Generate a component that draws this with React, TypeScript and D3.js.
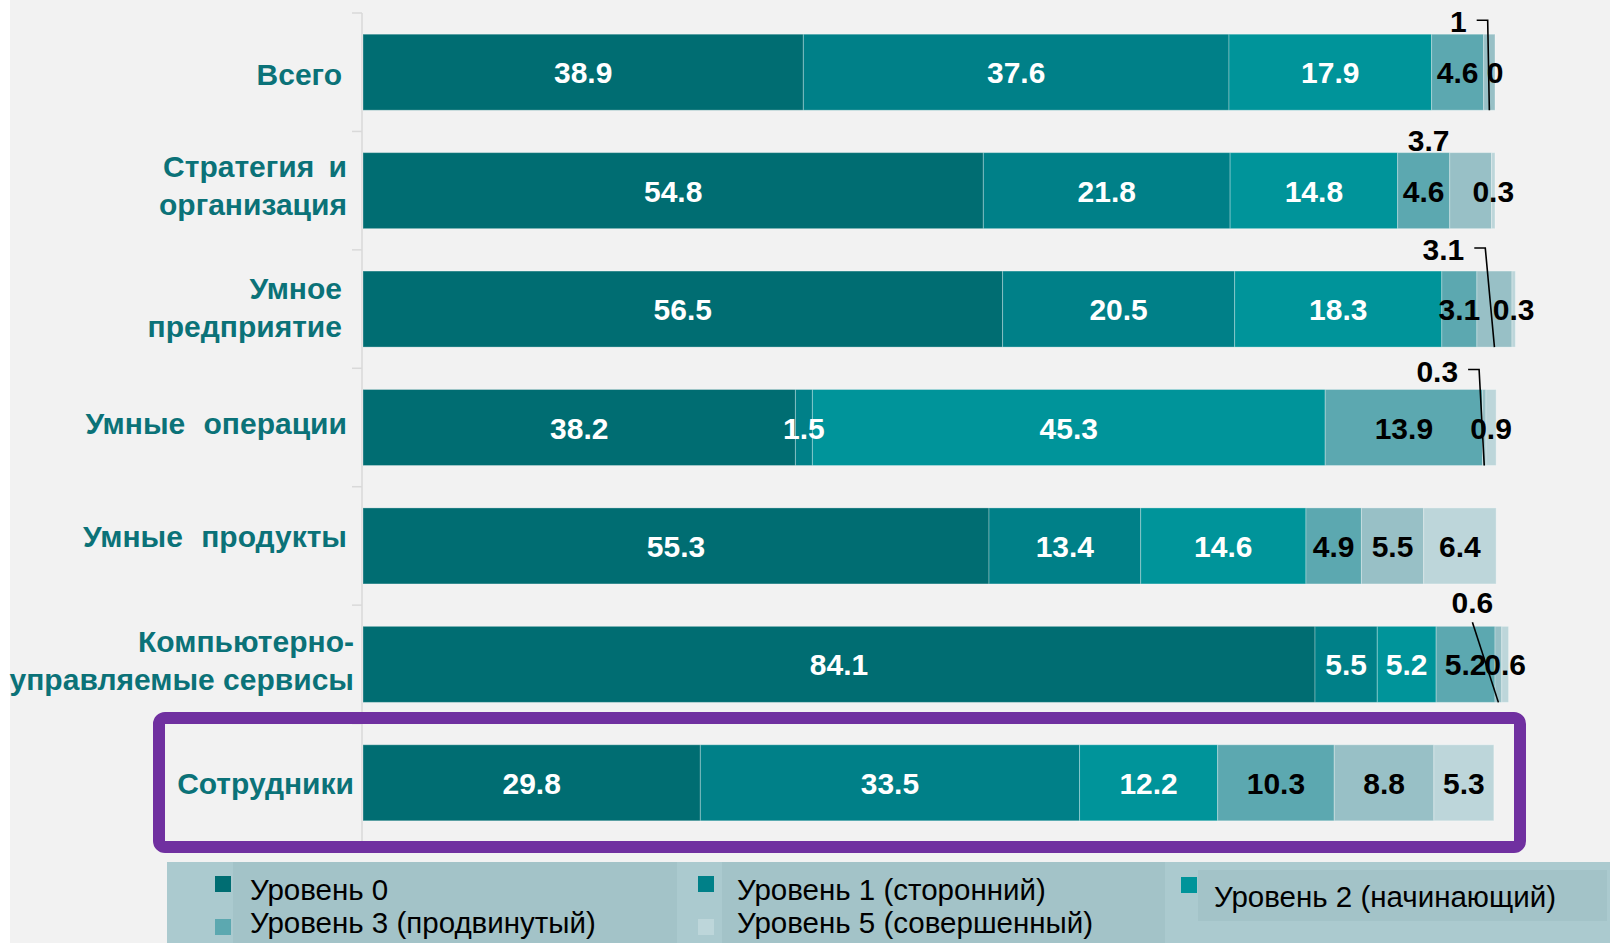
import { useEffect, useRef } from 'react';
import * as d3 from 'd3';

// categories (top to bottom)
const categories = [
  ['Всего'],
  ['Стратегия и', 'организация'],
  ['Умное', 'предприятие'],
  ['Умные операции'],
  ['Умные продукты'],
  ['Компьютерно-', 'управляемые сервисы'],
  ['Сотрудники'],
];

// series values, one per level, per category
const level0 = [38.9, 54.8, 56.5, 38.2, 55.3, 84.1, 29.8];
const level1 = [37.6, 21.8, 20.5, 1.5, 13.4, 5.5, 33.5];
const level2 = [17.9, 14.8, 18.3, 45.3, 14.6, 5.2, 12.2];
const level3 = [4.6, 4.6, 3.1, 13.9, 4.9, 5.2, 10.3];
const level4 = [1, 3.7, 3.1, 0.3, 5.5, 0.6, 8.8];
const level5 = [0, 0.3, 0.3, 0.9, 6.4, 0.6, 5.3];

const seriesNames = [
  'Уровень 0',
  'Уровень 1 (сторонний)',
  'Уровень 2 (начинающий)',
  'Уровень 3 (продвинутый)',
  'Уровень 4',
  'Уровень 5 (совершенный)',
];

const colors = ['#006d72', '#008088', '#00949a', '#5ca8b0', '#98c0c6', '#bdd6da'];
const labelColors = ['#fff', '#fff', '#fff', '#000', '#000', '#000'];

// small labels moved out of the bar, relative to segment centre
const callouts = [
  { cat: 0, level: 4, dx: -31, dy: -51, leader: 'elbow' },
  { cat: 1, level: 4, dx: -42, dy: -51, leader: 'none' },
  { cat: 2, level: 4, dx: -51, dy: -60, leader: 'elbow' },
  { cat: 3, level: 4, dx: -47, dy: -57, leader: 'elbow' },
  { cat: 5, level: 4, dx: -26, dy: -62, leader: 'straight' },
];

// small nudges and word gaps of the category labels
const catLabelDx = [-6, -1, -6, -1, -1, 6, 6];
const catLabelDy = [2, -6, -2, -5, -10, -4, 0];
const catWordGap = [0, 6, 0, 10, 10, 0, 0];

// legend layout: series index, square x, square y, text x, text baseline
const legendItems = [
  { s: 0, x: 215, y: 876, tx: 250, ty: 900 },
  { s: 1, x: 698, y: 876, tx: 737, ty: 900 },
  { s: 2, x: 1181, y: 877, tx: 1214, ty: 907 },
  { s: 3, x: 215, y: 919, tx: 250, ty: 933 },
  { s: 5, x: 698, y: 919, tx: 737, ty: 933 },
];

const W = 1610;
const H = 943;
const font = 'Liberation Sans, Arial, sans-serif';

const App = () => {
  const svgRef = useRef<SVGSVGElement>(null);

  useEffect(() => {
    const svg = d3.select(svgRef.current);
    svg.selectAll('*').remove();

    const levels = [level0, level1, level2, level3, level4, level5];
    const rows = categories.map((c, i) => {
      const r: any = { idx: i };
      levels.forEach((l, k) => (r[k] = l[i]));
      return r;
    });
    const stack = d3.stack<any>().keys(levels.map((_, k) => String(k)));
    const stacked = stack(rows);

    const x = d3.scaleLinear().domain([0, 100]).range([363, 1495]);
    const y = d3
      .scaleBand<number>()
      .domain(categories.map((_, i) => i))
      .range([13, 842])
      .paddingInner(0.358)
      .paddingOuter(0.179);

    // backgrounds
    svg.append('rect').attr('width', W).attr('height', H).attr('fill', '#fff');
    svg.append('rect').attr('x', 10).attr('width', W - 10).attr('height', H).attr('fill', '#f2f2f2');

    // axis line + ticks between categories
    const axis = svg.append('g').attr('stroke', '#d9d9d9').attr('stroke-width', 1.5);
    axis.append('line').attr('x1', 362).attr('x2', 362).attr('y1', 13).attr('y2', 842);
    d3.range(categories.length + 1).forEach((i) => {
      const ty = 13 + (829 / categories.length) * i;
      axis.append('line').attr('x1', 352).attr('x2', 362).attr('y1', ty).attr('y2', ty);
    });

    // bars
    stacked.forEach((layer, k) => {
      svg
        .append('g')
        .selectAll('rect')
        .data(layer)
        .enter()
        .append('rect')
        .attr('x', (d) => x(d[0]))
        .attr('y', (d: any) => y(d.data.idx)!)
        .attr('width', (d) => Math.max(0, x(d[1]) - x(d[0])))
        .attr('height', y.bandwidth())
        .attr('fill', colors[k])
        .attr('stroke', 'rgba(255,255,255,0.3)')
        .attr('stroke-width', 1);
    });

    // value labels
    const fs = 30;
    const labels = svg
      .append('g')
      .attr('font-family', font)
      .attr('font-weight', 'bold')
      .attr('font-size', fs)
      .attr('text-anchor', 'middle');

    stacked.forEach((layer, k) => {
      layer.forEach((d: any) => {
        const ci = d.data.idx;
        const cx = (x(d[0]) + x(d[1])) / 2;
        const cy = y(ci)! + y.bandwidth() / 2;
        const call = callouts.find((c) => c.cat === ci && c.level === k);
        const text = String(levels[k][ci]);
        if (!call) {
          labels
            .append('text')
            .attr('x', cx)
            .attr('y', cy + 11)
            .attr('fill', labelColors[k])
            .text(text);
          return;
        }
        const lx = cx + call.dx;
        const ly = cy + call.dy;
        labels.append('text').attr('x', lx).attr('y', ly + 11).attr('fill', '#000').text(text);
        const barBottom = y(ci)! + y.bandwidth();
        const tw = (text.length * 0.556 - (text.includes('.') ? 0.278 : 0)) * fs;
        if (call.leader === 'elbow') {
          const sx = lx + tw / 2 + 10;
          svg
            .append('polyline')
            .attr('points', `${sx},${ly - 1} ${sx + 11},${ly - 1} ${cx},${barBottom}`)
            .attr('fill', 'none')
            .attr('stroke', '#000')
            .attr('stroke-width', 1.6);
        } else if (call.leader === 'straight') {
          svg
            .append('line')
            .attr('x1', lx)
            .attr('y1', ly + 20)
            .attr('x2', cx)
            .attr('y2', barBottom)
            .attr('stroke', '#000')
            .attr('stroke-width', 1.6);
        }
      });
    });

    // category labels
    const catG = svg
      .append('g')
      .attr('font-family', font)
      .attr('font-weight', 'bold')
      .attr('font-size', 30)
      .attr('fill', '#0b7278')
      .attr('text-anchor', 'end');
    categories.forEach((lines, i) => {
      const cy = y(i)! + y.bandwidth() / 2 + catLabelDy[i];
      lines.forEach((line, j) => {
        catG
          .append('text')
          .attr('x', 348 + catLabelDx[i])
          .attr('y', cy + 11 + (j - (lines.length - 1) / 2) * 38)
          .attr('word-spacing', catWordGap[i])
          .text(line);
      });
    });

    // highlight box around the last category
    svg
      .append('rect')
      .attr('x', 159)
      .attr('y', 718)
      .attr('width', 1361)
      .attr('height', 129)
      .attr('rx', 6)
      .attr('fill', 'none')
      .attr('stroke', '#7030a0')
      .attr('stroke-width', 12);

    // legend
    const lg = svg.append('g');
    lg.append('rect').attr('x', 167).attr('y', 862).attr('width', W - 167).attr('height', H - 862).attr('fill', '#abcacf');
    lg.append('rect').attr('x', 233).attr('y', 862).attr('width', 444).attr('height', H - 862).attr('fill', '#a3c3c8');
    lg.append('rect').attr('x', 722).attr('y', 862).attr('width', 443).attr('height', H - 862).attr('fill', '#a3c3c8');
    lg.append('rect').attr('x', 1198).attr('y', 870).attr('width', 409).attr('height', 51).attr('fill', '#a3c3c8');
    legendItems.forEach((it) => {
      lg.append('rect').attr('x', it.x).attr('y', it.y).attr('width', 16).attr('height', 16).attr('fill', colors[it.s]);
      lg.append('text')
        .attr('x', it.tx)
        .attr('y', it.ty)
        .attr('font-family', font)
        .attr('font-size', 29.5)
        .attr('fill', '#000')
        .text(seriesNames[it.s]);
    });
  }, []);

  return (
    <svg
      ref={svgRef}
      width={W}
      height={H}
      style={{ position: 'absolute', left: 0, top: 0, display: 'block' }}
    />
  );
};

export default App;
